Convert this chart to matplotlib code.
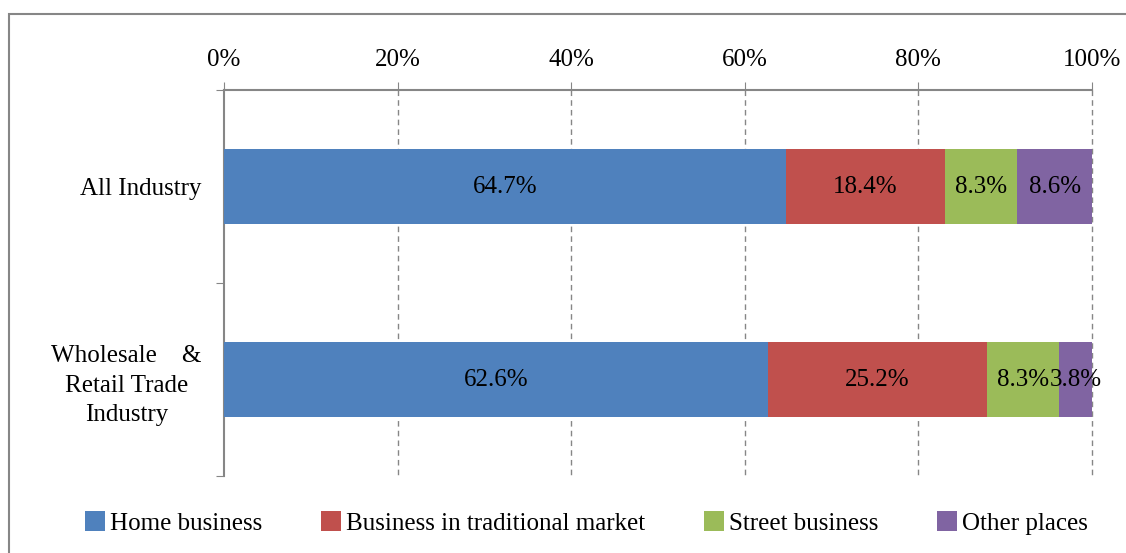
import matplotlib
matplotlib.use("Agg")
import matplotlib.pyplot as plt
import numpy as np
from matplotlib.patches import Rectangle

# data
categories = ["All Industry", "Wholesale    &\nRetail Trade\nIndustry"]
series_names = ["Home business", "Business in traditional market", "Street business", "Other places"]
home = [64.7, 62.6]
market = [18.4, 25.2]
street = [8.3, 8.3]
other = [8.6, 3.8]
colors = ["#4F81BD", "#C0504D", "#9BBB59", "#8064A2"]
xticks = [0, 20, 40, 60, 80, 100]

plt.rcParams["font.family"] = ["Liberation Serif", "DejaVu Serif"]
FS = 18

values = np.array([home, market, street, other])
shares = values / values.sum(axis=0) * 100  # 100% stacked like the original

fig = plt.figure(figsize=(11.26, 5.53), dpi=100)
ax = fig.add_axes([224 / 1126, 1 - 476 / 553, 868 / 1126, 386 / 553])

# grey frame around chart area (runs off right/bottom like the source)
fig.patches.append(Rectangle((9 / 1126, -0.1), 1.2, 1 - 14 / 553 + 0.1,
                             transform=fig.transFigure, fill=False,
                             edgecolor="#868686", linewidth=1.5, clip_on=False))

y = np.arange(len(categories))
left = np.zeros(len(categories))
for i in range(len(series_names)):
    ax.barh(y, shares[i], left=left, height=0.39, color=colors[i],
            label=series_names[i], zorder=3)
    for j in range(len(categories)):
        ax.text(left[j] + shares[i][j] / 2, y[j], f"{values[i][j]:.1f}%",
                ha="center", va="center", fontsize=FS, zorder=4)
    left = left + shares[i]

ax.set_xlim(0, 100)
ax.set_ylim(1.5, -0.5)
ax.xaxis.tick_top()
ax.set_xticks(xticks)
ax.set_xticklabels([f"{t}%" for t in xticks], fontsize=FS)
ax.tick_params(axis="x", direction="out", length=6, color="#868686", pad=8)
# dashed gridlines (drawn unclipped so the 100% line shows fully)
ax.vlines(xticks[1:], -0.5, 1.5, linestyles=(0, (4, 3)), colors="#868686",
          linewidth=1, zorder=0, clip_on=False)

ax.set_yticks([-0.5, 0.5, 1.5])
ax.set_yticklabels([])
ax.set_yticks(y, minor=True)
ax.set_yticklabels(categories, minor=True, fontsize=FS, multialignment="center",
                   linespacing=1.45)
ax.tick_params(axis="y", which="major", direction="out", length=6, color="#868686")
ax.tick_params(axis="y", which="minor", length=0, pad=16)

for s in ["right", "bottom"]:
    ax.spines[s].set_visible(False)
for s in ["left", "top"]:
    ax.spines[s].set_color("#868686")
    ax.spines[s].set_linewidth(1.5)

fig.legend(loc="center", bbox_to_anchor=(0.521, 1 - 523 / 553), ncol=4, frameon=False,
           fontsize=FS, handlelength=0.8, handleheight=0.8, handletextpad=0.2,
           columnspacing=2.35)

fig.savefig("out.png", dpi=100)
